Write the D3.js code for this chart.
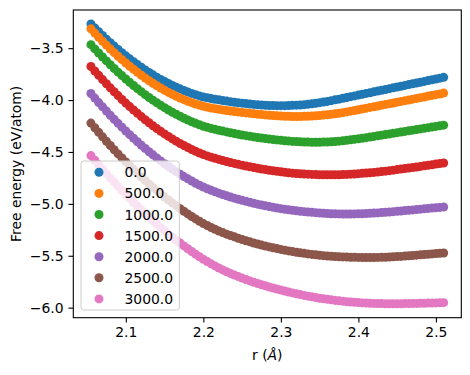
<!DOCTYPE html>
<html>
<head>
<meta charset="utf-8">
<script src="https://cdn.jsdelivr.net/npm/d3@7"></script>
<style>
  body { margin: 0; background: #fff; }
  svg { font-family: "DejaVu Sans", sans-serif; }
</style>
</head>
<body>
<div id="chart-area"></div>
<script>

// distance grid (angstrom), shared by every temperature
let rValues = [2.055, 2.06, 2.065, 2.07, 2.075, 2.08, 2.085, 2.09, 2.095, 2.1,
  2.105, 2.11, 2.115, 2.12, 2.125, 2.13, 2.135, 2.14, 2.145, 2.15,
  2.155, 2.16, 2.165, 2.17, 2.175, 2.18, 2.185, 2.19, 2.195, 2.2,
  2.205, 2.21, 2.215, 2.22, 2.225, 2.23, 2.235, 2.24, 2.245, 2.25,
  2.255, 2.26, 2.265, 2.27, 2.275, 2.28, 2.285, 2.29, 2.295, 2.3,
  2.305, 2.31, 2.315, 2.32, 2.325, 2.33, 2.335, 2.34, 2.345, 2.35,
  2.355, 2.36, 2.365, 2.37, 2.375, 2.38, 2.385, 2.39, 2.395, 2.4,
  2.405, 2.41, 2.415, 2.42, 2.425, 2.43, 2.435, 2.44, 2.445, 2.45,
  2.455, 2.46, 2.465, 2.47, 2.475, 2.48, 2.485, 2.49, 2.495, 2.5,
  2.505, 2.51];

let temperatures = [0, 500, 1000, 1500, 2000, 2500, 3000];

// free energy (eV/atom) for each temperature
let energy0 = [-3.267, -3.305, -3.342, -3.378, -3.413, -3.447, -3.480, -3.512, -3.544, -3.574,
  -3.603, -3.631, -3.658, -3.684, -3.710, -3.734, -3.757, -3.779, -3.801, -3.821,
  -3.840, -3.859, -3.876, -3.892, -3.908, -3.922, -3.936, -3.948, -3.960,
  -3.970, -3.978, -3.985, -3.992, -3.998, -4.004, -4.010, -4.016, -4.021, -4.026,
  -4.030, -4.034, -4.038, -4.042, -4.045, -4.048, -4.050, -4.052, -4.053, -4.054,
  -4.054, -4.054, -4.053, -4.051, -4.049, -4.047, -4.044, -4.040, -4.036, -4.031,
  -4.025, -4.019, -4.013, -4.006, -3.998, -3.991, -3.983, -3.975, -3.967, -3.960,
  -3.952, -3.944, -3.936, -3.929, -3.921, -3.913, -3.905, -3.898, -3.890, -3.882,
  -3.874, -3.867, -3.859, -3.851, -3.843, -3.836, -3.828, -3.820, -3.812, -3.805,
  -3.797, -3.789, -3.781];

let energy500 = [-3.314, -3.355, -3.395, -3.433, -3.471, -3.508, -3.543, -3.578, -3.611, -3.643,
  -3.674, -3.704, -3.733, -3.761, -3.788, -3.814, -3.838, -3.862, -3.884, -3.906,
  -3.926, -3.945, -3.963, -3.981, -3.996, -4.011, -4.025, -4.038, -4.049,
  -4.060, -4.068, -4.076, -4.083, -4.089, -4.095, -4.100, -4.105, -4.110, -4.115,
  -4.119, -4.124, -4.128, -4.132, -4.136, -4.140, -4.143, -4.146, -4.149, -4.152,
  -4.154, -4.156, -4.157, -4.158, -4.158, -4.158, -4.157, -4.156, -4.154, -4.152,
  -4.149, -4.145, -4.141, -4.137, -4.132, -4.127, -4.121, -4.114, -4.107, -4.100,
  -4.093, -4.086, -4.078, -4.071, -4.064, -4.057, -4.049, -4.042, -4.035, -4.028,
  -4.020, -4.013, -4.006, -3.999, -3.991, -3.984, -3.977, -3.970, -3.962, -3.955,
  -3.948, -3.941, -3.933];

let energy1000 = [-3.466, -3.507, -3.546, -3.585, -3.623, -3.660, -3.696, -3.731, -3.764, -3.797,
  -3.829, -3.860, -3.890, -3.919, -3.948, -3.975, -4.001, -4.026, -4.050, -4.073,
  -4.096, -4.117, -4.137, -4.156, -4.175, -4.192, -4.209, -4.224, -4.238,
  -4.252, -4.263, -4.273, -4.282, -4.291, -4.299, -4.307, -4.315, -4.322, -4.329,
  -4.336, -4.343, -4.349, -4.355, -4.361, -4.366, -4.371, -4.376, -4.380, -4.384,
  -4.388, -4.392, -4.395, -4.398, -4.400, -4.402, -4.404, -4.405, -4.406, -4.406,
  -4.406, -4.405, -4.404, -4.402, -4.399, -4.396, -4.392, -4.388, -4.383, -4.378,
  -4.373, -4.368, -4.362, -4.356, -4.350, -4.344, -4.338, -4.332, -4.326, -4.320,
  -4.314, -4.308, -4.302, -4.296, -4.290, -4.284, -4.278, -4.272, -4.266, -4.260,
  -4.254, -4.248, -4.242];

let energy1500 = [-3.677, -3.720, -3.762, -3.803, -3.843, -3.882, -3.920, -3.957, -3.994, -4.029,
  -4.063, -4.096, -4.128, -4.159, -4.190, -4.219, -4.247, -4.275, -4.301, -4.326,
  -4.350, -4.374, -4.396, -4.418, -4.438, -4.457, -4.476, -4.493, -4.510,
  -4.525, -4.538, -4.550, -4.561, -4.572, -4.582, -4.592, -4.601, -4.610, -4.619,
  -4.627, -4.635, -4.643, -4.650, -4.657, -4.664, -4.670, -4.676, -4.681, -4.686,
  -4.691, -4.696, -4.700, -4.704, -4.707, -4.710, -4.712, -4.714, -4.716, -4.718,
  -4.719, -4.720, -4.720, -4.720, -4.720, -4.719, -4.718, -4.716, -4.714, -4.712,
  -4.709, -4.706, -4.703, -4.700, -4.697, -4.693, -4.689, -4.685, -4.680, -4.675,
  -4.670, -4.665, -4.660, -4.655, -4.650, -4.645, -4.639, -4.634, -4.628, -4.623,
  -4.617, -4.612, -4.606];

let energy2000 = [-3.937, -3.981, -4.024, -4.065, -4.106, -4.147, -4.186, -4.224, -4.261, -4.298,
  -4.333, -4.368, -4.402, -4.435, -4.467, -4.498, -4.528, -4.557, -4.586, -4.613,
  -4.640, -4.665, -4.690, -4.714, -4.737, -4.759, -4.780, -4.801, -4.820,
  -4.838, -4.854, -4.869, -4.883, -4.897, -4.910, -4.922, -4.934, -4.945, -4.956,
  -4.966, -4.976, -4.985, -4.994, -5.003, -5.011, -5.019, -5.026, -5.033, -5.040,
  -5.046, -5.052, -5.057, -5.062, -5.067, -5.071, -5.075, -5.079, -5.082, -5.085,
  -5.088, -5.091, -5.093, -5.095, -5.096, -5.097, -5.098, -5.098, -5.098, -5.097,
  -5.096, -5.095, -5.093, -5.091, -5.089, -5.087, -5.084, -5.081, -5.078, -5.075,
  -5.072, -5.069, -5.065, -5.062, -5.058, -5.055, -5.051, -5.048, -5.044, -5.041,
  -5.037, -5.034, -5.030];

let energy2500 = [-4.222, -4.267, -4.311, -4.354, -4.397, -4.438, -4.479, -4.519, -4.558, -4.596,
  -4.634, -4.670, -4.706, -4.741, -4.775, -4.809, -4.841, -4.873, -4.904, -4.934,
  -4.963, -4.992, -5.019, -5.046, -5.072, -5.097, -5.122, -5.145, -5.168,
  -5.190, -5.209, -5.228, -5.245, -5.262, -5.277, -5.292, -5.305, -5.318, -5.331,
  -5.343, -5.355, -5.366, -5.377, -5.387, -5.397, -5.406, -5.415, -5.423, -5.431,
  -5.439, -5.446, -5.453, -5.460, -5.466, -5.472, -5.477, -5.482, -5.487, -5.491,
  -5.495, -5.499, -5.502, -5.505, -5.507, -5.509, -5.511, -5.513, -5.514, -5.515,
  -5.516, -5.517, -5.517, -5.517, -5.517, -5.516, -5.515, -5.514, -5.512, -5.510,
  -5.508, -5.506, -5.503, -5.500, -5.497, -5.494, -5.491, -5.488, -5.485, -5.482,
  -5.479, -5.476, -5.473];

let energy3000 = [-4.535, -4.580, -4.623, -4.667, -4.709, -4.751, -4.791, -4.832, -4.871, -4.910,
  -4.948, -4.985, -5.022, -5.058, -5.093, -5.127, -5.161, -5.194, -5.227, -5.258,
  -5.289, -5.319, -5.348, -5.377, -5.405, -5.432, -5.459, -5.485, -5.510,
  -5.534, -5.556, -5.578, -5.598, -5.618, -5.636, -5.654, -5.670, -5.686, -5.701,
  -5.715, -5.729, -5.742, -5.755, -5.767, -5.779, -5.790, -5.801, -5.811, -5.821,
  -5.831, -5.840, -5.849, -5.858, -5.866, -5.874, -5.882, -5.889, -5.896, -5.903,
  -5.909, -5.915, -5.920, -5.925, -5.930, -5.934, -5.938, -5.942, -5.945, -5.948,
  -5.951, -5.954, -5.956, -5.958, -5.959, -5.960, -5.961, -5.962, -5.962, -5.962,
  -5.962, -5.962, -5.961, -5.961, -5.960, -5.959, -5.958, -5.957, -5.956, -5.955,
  -5.954, -5.953, -5.952];

let xTicks = [2.1, 2.2, 2.3, 2.4, 2.5];
let yTicks = [-6.0, -5.5, -5.0, -4.5, -4.0, -3.5];

let energies = [energy0, energy500, energy1000, energy1500, energy2000, energy2500, energy3000];
let colors = ["#1f77b4", "#ff7f0e", "#2ca02c", "#d62728", "#9467bd", "#8c564b", "#e377c2"];

// SVG drawing area
let margin = {top: 10, right: 8.7, bottom: 57.3, left: 73.3};

let width = 470 - margin.left - margin.right,
    height = 375 - margin.top - margin.bottom;

let svg = d3.select("#chart-area").append("svg")
    .attr("width", 470)
    .attr("height", 375)
  .append("g")
    .attr("transform", "translate(" + margin.left + "," + margin.top + ")");

let series = temperatures.map((t, i) => ({
  label: d3.format(".1f")(t),
  color: colors[i],
  points: rValues.map((r, j) => ({r: r, e: energies[i][j]}))
}));

// matplotlib style 5% padding on the data range
let rExt = d3.extent(rValues);
let eExt = d3.extent(energies.flat());
let rPad = (rExt[1] - rExt[0]) * 0.05,
    ePad = (eExt[1] - eExt[0]) * 0.05;

let x = d3.scaleLinear()
    .domain([rExt[0] - rPad, rExt[1] + rPad])
    .range([0, width]);

let y = d3.scaleLinear()
    .domain([eExt[0] - ePad, eExt[1] + ePad])
    .range([height, 0]);

let tickLen = 4.86;

let xAxis = d3.axisBottom(x)
    .tickValues(xTicks)
    .tickFormat(d3.format(".1f"))
    .tickSizeInner(tickLen)
    .tickSizeOuter(0)
    .tickPadding(4.86);

let yAxis = d3.axisLeft(y)
    .tickValues(yTicks)
    .tickFormat(d3.format(".1f"))
    .tickSizeInner(tickLen)
    .tickSizeOuter(0)
    .tickPadding(4.86);

let xAxisGroup = svg.append("g")
    .attr("class", "x-axis axis")
    .attr("transform", "translate(0," + height + ")")
    .call(xAxis);

let yAxisGroup = svg.append("g")
    .attr("class", "y-axis axis")
    .call(yAxis);

svg.selectAll(".axis .domain").remove();
svg.selectAll(".axis line").attr("stroke", "#000").attr("stroke-width", 1.1);
svg.selectAll(".axis text")
    .attr("fill", "#000")
    .style("font-size", "13.9px")
    .style("font-family", "'DejaVu Sans', sans-serif");

// scatter points, one group per temperature
let groups = svg.selectAll(".series")
    .data(series)
  .enter().append("g")
    .attr("class", "series")
    .attr("fill", d => d.color);

groups.selectAll("circle")
    .data(d => d.points)
  .enter().append("circle")
    .attr("cx", d => x(d.r))
    .attr("cy", d => y(d.e))
    .attr("r", 4.5);

// axes frame
svg.append("rect")
    .attr("x", 0)
    .attr("y", 0)
    .attr("width", width)
    .attr("height", height)
    .attr("fill", "none")
    .attr("stroke", "#000")
    .attr("stroke-width", 1.1);

// axis labels
let xLabel = svg.append("text")
    .attr("x", width / 2)
    .attr("y", height + 42.3)
    .attr("text-anchor", "middle")
    .style("font-size", "13.9px");
xLabel.append("tspan").text("r (");
xLabel.append("tspan").style("font-style", "italic").text("Å");
xLabel.append("tspan").text(")");

svg.append("text")
    .attr("transform", "translate(" + (20.5 - margin.left) + "," + (height / 2) + ") rotate(-90)")
    .attr("text-anchor", "middle")
    .style("font-size", "13.9px")
    .text("Free energy (eV/atom)");

// legend
let legend = svg.append("g")
    .attr("transform", "translate(" + (81 - margin.left) + "," + (161 - margin.top) + ")");

legend.append("rect")
    .attr("width", 98.3)
    .attr("height", 149)
    .attr("rx", 2.8)
    .attr("fill", "#fff")
    .attr("fill-opacity", 0.8)
    .attr("stroke", "#cccccc")
    .attr("stroke-width", 1);

let rows = legend.selectAll(".legend-row")
    .data(series)
  .enter().append("g")
    .attr("class", "legend-row")
    .attr("transform", (d, i) => "translate(0," + (11.3 + i * 21.1) + ")");

rows.append("circle")
    .attr("cx", 18)
    .attr("cy", 0)
    .attr("r", 4.5)
    .attr("fill", d => d.color);

rows.append("text")
    .attr("x", 43.5)
    .attr("y", 0)
    .attr("dy", "0.36em")
    .style("font-size", "13.9px")
    .text(d => d.label);

</script>
</body>
</html>
